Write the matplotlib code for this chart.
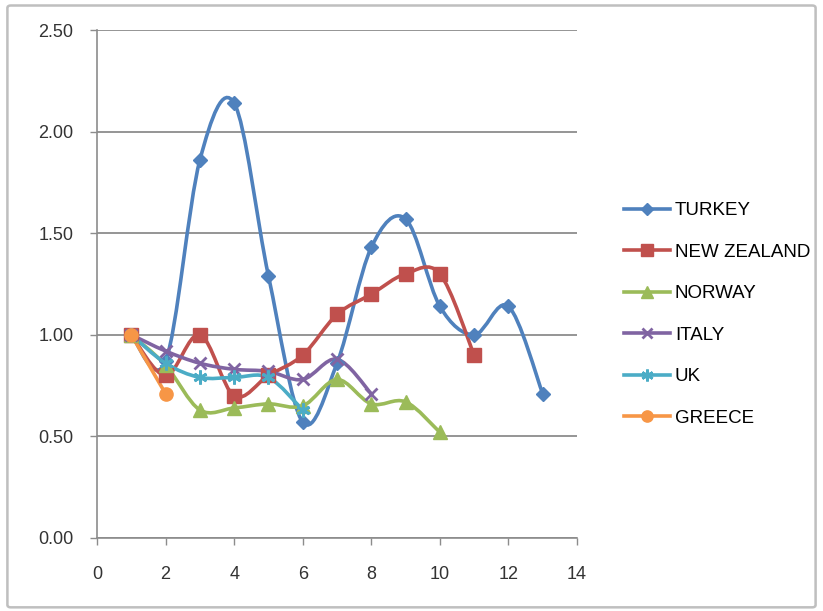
import matplotlib

matplotlib.use("Agg")
import matplotlib.pyplot as plt  # noqa: E402
from matplotlib.lines import Line2D  # noqa: E402
from matplotlib.patches import FancyBboxPatch, PathPatch  # noqa: E402
from matplotlib.path import Path  # noqa: E402

plt.rcParams["font.family"] = ["Liberation Sans Narrow", "Liberation Sans", "DejaVu Sans"]

turkey_x = [1, 2, 3, 4, 5, 6, 7, 8, 9, 10, 11, 12, 13]
turkey_y = [1.00, 0.87, 1.86, 2.14, 1.29, 0.57, 0.86, 1.43, 1.57, 1.14, 1.00, 1.14, 0.71]
nz_x = [1, 2, 3, 4, 5, 6, 7, 8, 9, 10, 11]
nz_y = [1.00, 0.80, 1.00, 0.70, 0.80, 0.90, 1.10, 1.20, 1.30, 1.30, 0.90]
norway_x = [1, 2, 3, 4, 5, 6, 7, 8, 9, 10]
norway_y = [1.00, 0.85, 0.63, 0.64, 0.66, 0.65, 0.78, 0.66, 0.67, 0.52]
italy_x = [1, 2, 3, 4, 5, 6, 7, 8]
italy_y = [1.00, 0.92, 0.86, 0.83, 0.82, 0.78, 0.88, 0.71]
uk_x = [1, 2, 3, 4, 5, 6]
uk_y = [1.00, 0.86, 0.79, 0.79, 0.79, 0.63]
greece_x = [1, 2]
greece_y = [1.00, 0.71]

series = [
    ("TURKEY", turkey_x, turkey_y, "#4F81BD", "D", 7.5),
    ("NEW ZEALAND", nz_x, nz_y, "#C0504D", "s", 9.5),
    ("NORWAY", norway_x, norway_y, "#9BBB59", "^", 9.5),
    ("ITALY", italy_x, italy_y, "#8064A2", "x", 8),
    ("UK", uk_x, uk_y, "#4BACC6", (6, 2, 0), 10),
    ("GREECE", greece_x, greece_y, "#F79646", "o", 9.5),
]


def smooth_path(xs, ys):
    # Excel-style smoothed line: cubic Bezier through each point
    pts = list(zip(xs, ys))
    n = len(pts)
    verts = [pts[0]]
    codes = [Path.MOVETO]
    for i in range(n - 1):
        p0 = pts[max(i - 1, 0)]
        p1 = pts[i]
        p2 = pts[i + 1]
        p3 = pts[min(i + 2, n - 1)]
        c1 = (p1[0] + (p2[0] - p0[0]) / 6, p1[1] + (p2[1] - p0[1]) / 6)
        c2 = (p2[0] - (p3[0] - p1[0]) / 6, p2[1] - (p3[1] - p1[1]) / 6)
        verts += [c1, c2, p2]
        codes += [Path.CURVE4] * 3
    return Path(verts, codes)


fig = plt.figure(figsize=(8.23, 6.11), dpi=100)
border = FancyBboxPatch(
    (0.009, 0.006), 0.982, 0.985,
    boxstyle="round,pad=0,rounding_size=0.004",
    transform=fig.transFigure, facecolor="none", edgecolor="#BFBFBF", linewidth=1.8,
)
fig.patches.append(border)

ax = fig.add_axes([0.1179, 0.1195, 0.5832, 0.8314])
ax.set_xlim(0, 14)
ax.set_ylim(0, 2.5)
ax.patch.set_alpha(0)

handles = []
for name, xs, ys, color, marker, ms in series:
    ax.add_patch(PathPatch(smooth_path(xs, ys), fill=False, edgecolor=color,
                           linewidth=2.6, zorder=3, capstyle="round"))
    mew = 2 if marker in ("x", (6, 2, 0)) else 1
    ax.plot(xs, ys, linestyle="none", marker=marker, markersize=ms, color=color,
            markeredgecolor=color, markeredgewidth=mew, zorder=4)
    handles.append(Line2D([], [], color=color, linewidth=2.6, marker=marker,
                          markersize=ms * 0.85, markeredgewidth=mew, label=name))

ax.set_yticks([0, 0.5, 1.0, 1.5, 2.0, 2.5])
ax.set_yticklabels(["0.00", "0.50", "1.00", "1.50", "2.00", "2.50"])
ax.set_xticks(range(0, 15, 2))
ax.yaxis.grid(True, color="#8C8C8C", linewidth=1.3)
ax.set_axisbelow(True)
for side in ("top", "right"):
    ax.spines[side].set_visible(False)
for side in ("left", "bottom"):
    ax.spines[side].set_color("#8C8C8C")
    ax.spines[side].set_linewidth(1.2)
ax.tick_params(axis="both", colors="#8C8C8C", length=5, width=1, labelsize=13,
               labelcolor="#333333")
ax.tick_params(axis="x", pad=15)
ax.tick_params(axis="y", pad=12)

fig.legend(handles=handles, loc="upper left", bbox_to_anchor=(0.738, 0.697),
           frameon=False, fontsize=13.5, handlelength=2.45, labelspacing=1.3,
           handletextpad=0.25)

fig.savefig("out.png", dpi=100)
